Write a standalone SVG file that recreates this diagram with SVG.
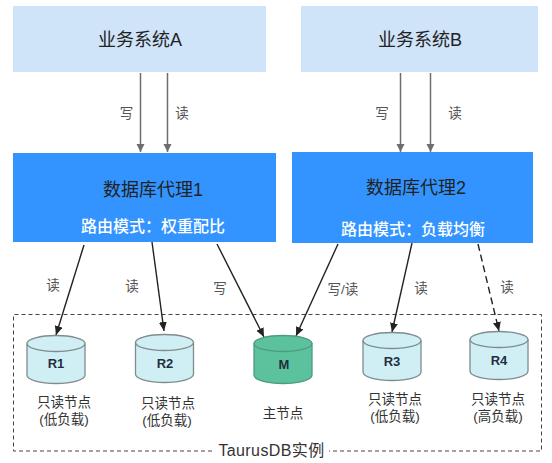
<svg xmlns="http://www.w3.org/2000/svg" width="552" height="463" viewBox="0 0 552 463">
<style>
text{font-family:"Liberation Sans","Noto Sans CJK SC",sans-serif;text-anchor:middle;fill:#333}
.sys{fill:#cfe3f9}
.proxy{fill:#3394ff}
.t1{font-size:18px;fill:#222}
.t2{font-size:16px;fill:#fff;font-weight:500}
.lb{font-size:13.500px;fill:#555}
.nl{font-size:13.500px;fill:#333}
.cap{fill:#d0eff5;stroke:#7f8c8d;stroke-width:1.3}
.m{fill:#5cc29e;stroke:#4c9c80;stroke-width:1.3}
.id{font-size:13px;font-weight:bold;fill:#1f2f3f}
.g{stroke:#6e6e6e;stroke-width:1.5;fill:none;marker-end:url(#ag)}
.k{stroke:#222;stroke-width:1.4;fill:none;marker-end:url(#ak)}
</style>
<defs>
<marker id="ag" markerUnits="userSpaceOnUse" markerWidth="9" markerHeight="9" refX="8" refY="4" orient="auto"><path d="M0 0L8 4L0 8Z" fill="#6e6e6e"/></marker>
<marker id="ak" markerUnits="userSpaceOnUse" markerWidth="10" markerHeight="9" refX="9" refY="4" orient="auto"><path d="M0 0L9 4L0 8Z" fill="#222"/></marker>
<g id="cy"><path d="M0 9V40C0 45 13 48.500 29 48.500S58 45 58 40V9Z"/><ellipse cx="29" cy="8.500" rx="29" ry="8"/></g>
</defs>
<g id="sysA"><rect class="sys" x="13" y="6" width="253" height="66"/><text class="t1" x="140" y="46">业务系统A</text></g>
<g id="sysB"><rect class="sys" x="301" y="6" width="237" height="66"/><text class="t1" x="420" y="46">业务系统B</text></g>
<g id="proxy1"><rect class="proxy" x="13" y="153" width="263" height="89"/><text class="t1" x="153" y="196">数据库代理1</text><text class="t2" x="153" y="232">路由模式：权重配比</text></g>
<g id="proxy2"><rect class="proxy" x="292" y="152" width="241" height="91"/><text class="t1" x="416" y="194">数据库代理2</text><text class="t2" x="413" y="235">路由模式：负载均衡</text></g>
<g id="instance"><path d="M212 451H13.500V314.500H541.500V451H329" fill="none" stroke="#444" stroke-dasharray="4 3"/><text x="271.500" y="456" font-size="16" fill="#333" letter-spacing=".4">TaurusDB实例</text></g>
<g id="connectors">
<path class="g" d="M140.500 73V152"/><path class="g" d="M167.500 73V152"/>
<path class="g" d="M400.500 73V152"/><path class="g" d="M430.500 73V152"/>
<path class="k" d="M84 245L56 335"/><path class="k" d="M152 242L164 331"/><path class="k" d="M217 244L264 337"/>
<path class="k" d="M338 244L296 336"/><path class="k" d="M412 243L392 332"/><path class="k" d="M478 244L499 331" stroke-dasharray="7 4"/>
</g>
<g id="edge-labels">
<text class="lb" x="126.500" y="118">写</text><text class="lb" x="182" y="118">读</text>
<text class="lb" x="382" y="118">写</text><text class="lb" x="455" y="118">读</text>
<text class="lb" x="53" y="290">读</text><text class="lb" x="132" y="291">读</text><text class="lb" x="220" y="293">写</text>
<text class="lb" x="343" y="294">写/读</text><text class="lb" x="421" y="293">读</text><text class="lb" x="507" y="292">读</text>
</g>
<g id="R1"><use href="#cy" x="27" y="335" class="cap"/><text class="id" x="56" y="368">R1</text><text class="nl" x="64" y="407">只读节点</text><text class="nl" x="64" y="424">(低负载)</text></g>
<g id="R2"><use href="#cy" x="135.500" y="334" class="cap"/><text class="id" x="165" y="368">R2</text><text class="nl" x="168" y="408">只读节点</text><text class="nl" x="167" y="425">(低负载)</text></g>
<g id="M"><use href="#cy" x="254" y="335" class="m"/><text class="id" x="284" y="369">M</text><text class="nl" x="283" y="418">主节点</text></g>
<g id="R3"><use href="#cy" x="363" y="332" class="cap"/><text class="id" x="392" y="366">R3</text><text class="nl" x="395" y="404">只读节点</text><text class="nl" x="395" y="421">(低负载)</text></g>
<g id="R4"><use href="#cy" x="470" y="331" class="cap"/><text class="id" x="499" y="365">R4</text><text class="nl" x="498" y="404">只读节点</text><text class="nl" x="498" y="421">(高负载)</text></g>
</svg>
